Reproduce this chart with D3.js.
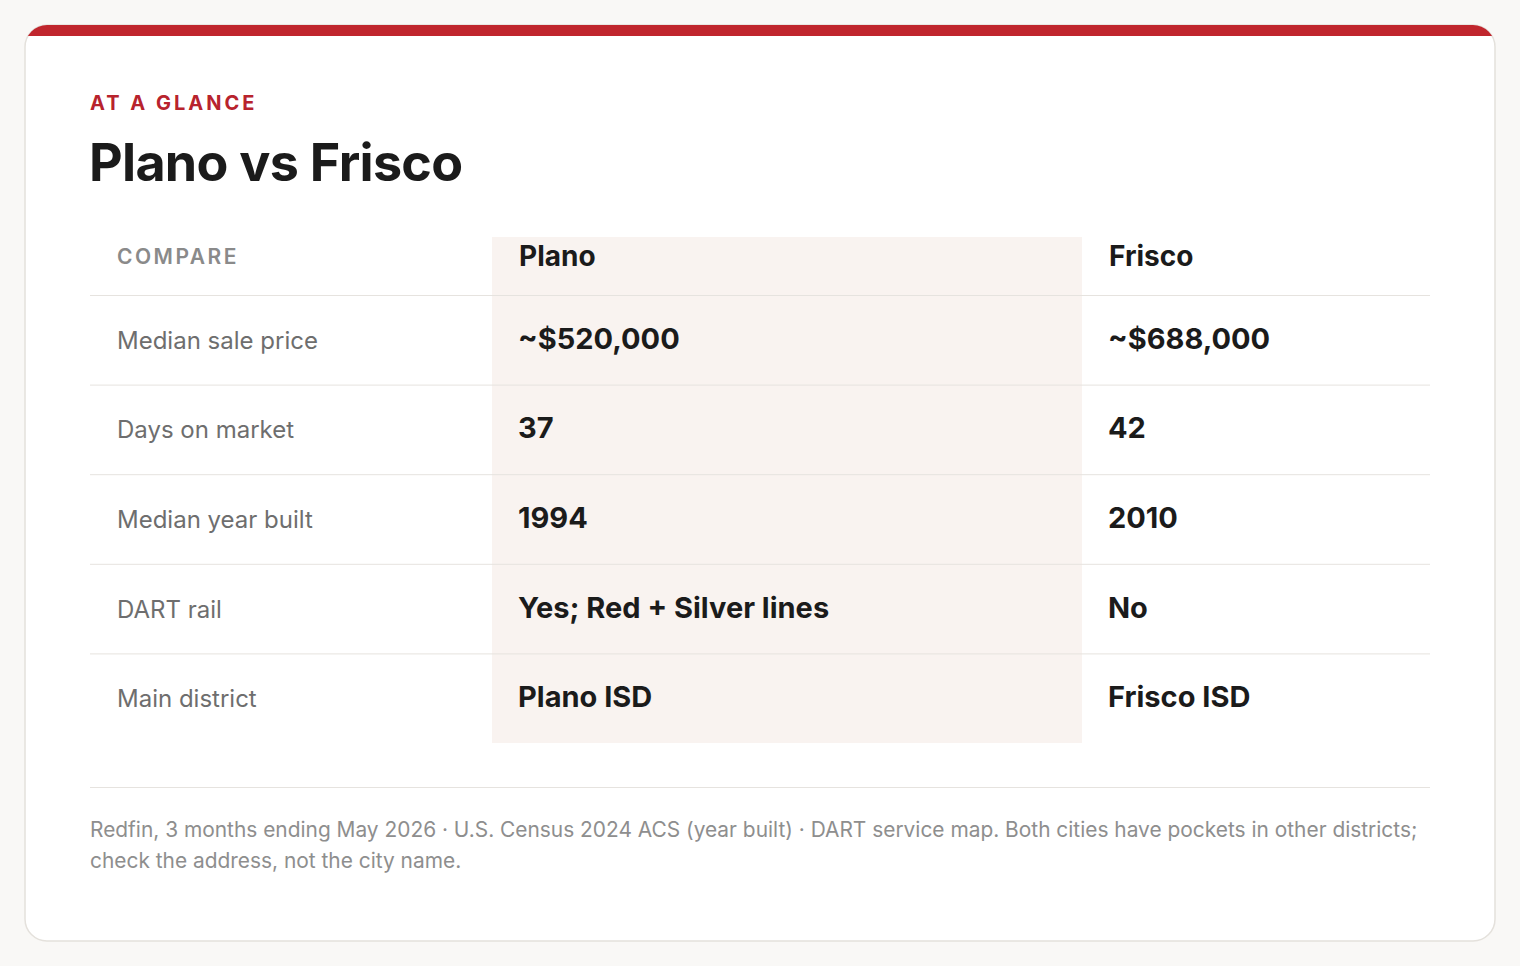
<!DOCTYPE html>
<html><head><meta charset="utf-8">
<script src="https://cdn.jsdelivr.net/npm/d3@7"></script>
<style>
body{margin:0;background:#f9f8f6;font-family:Inter,"Noto Sans",sans-serif;}
</style></head><body>
<svg id="chart" width="1520" height="966"></svg>
<script>
// table content
const columns = ["COMPARE", "Plano", "Frisco"];
const metrics = ["Median sale price", "Days on market", "Median year built", "DART rail", "Main district"];
const plano = ["~$520,000", "37", "1994", "Yes; Red + Silver lines", "Plano ISD"];
const frisco = ["~$688,000", "42", "2010", "No", "Frisco ISD"];
const notes = ["Redfin, 3 months ending May 2026 · U.S. Census 2024 ACS (year built) · DART service map. Both cities have pockets in other districts;",
  "check the address, not the city name."];

const svg = d3.select("#chart");
svg.append("defs").append("clipPath").attr("id", "card")
  .append("rect").attr("x", 25).attr("y", 25).attr("width", 1470).attr("height", 916).attr("rx", 22);
svg.append("rect").attr("x", 25).attr("y", 25).attr("width", 1470).attr("height", 916).attr("rx", 22)
  .attr("fill", "#fff").attr("stroke", "#e4e1dc").attr("stroke-width", 1.5);
svg.append("rect").attr("x", 25).attr("y", 25).attr("width", 1470).attr("height", 11)
  .attr("fill", "#c0262d").attr("clip-path", "url(#card)");

svg.append("text").attr("x", 90).attr("y", 110).text("AT A GLANCE")
  .attr("fill", "#b8232d").attr("font-size", 20).attr("font-weight", 700).attr("letter-spacing", 3);
svg.append("text").attr("x", 89).attr("y", 181).text("Plano vs Frisco")
  .attr("fill", "#1b1b1b").attr("font-size", 52).attr("font-weight", 700).attr("letter-spacing", -0.7);

const x = d3.scaleOrdinal().domain(columns).range([90, 492, 1082]);
const colEnd = 1430;
const rowH = (743 - 295) / metrics.length;
const rowY = d => 295 + metrics.indexOf(d) * rowH;

// Plano highlight column
svg.append("rect").attr("x", x("Plano")).attr("y", 237).attr("width", x("Frisco") - x("Plano"))
  .attr("height", 743 - 237).attr("fill", "#f9f3f0");

// header
svg.append("g").selectAll("text").data(columns).join("text")
  .attr("x", d => x(d) + 27).attr("y", 265)
  .text(d => d)
  .attr("font-size", d => d === "COMPARE" ? 21 : 28)
  .attr("font-weight", d => d === "COMPARE" ? 600 : 700)
  .attr("letter-spacing", d => d === "COMPARE" ? 2.5 : 0)
  .attr("fill", d => d === "COMPARE" ? "#8a8a8a" : "#1b1b1b")
  .attr("dy", d => d === "COMPARE" ? -1 : 1);

// row separators
const seps = [295].concat(metrics.slice(0, -1).map(d => rowY(d) + rowH));
svg.selectAll("line.sep").data(seps).join("line")
  .attr("x1", 90).attr("x2", colEnd)
  .attr("y1", d => d + 0.5).attr("y2", d => d + 0.5)
  .attr("stroke", "#e6e3df");

const rows = svg.selectAll("g.row").data(metrics).join("g")
  .attr("transform", d => `translate(0,${rowY(d) + rowH / 2 + 9})`);
rows.append("text").attr("x", x("COMPARE") + 27).text(d => d)
  .attr("font-size", 24).attr("fill", "#6e6e6e");
rows.append("text").attr("x", x("Plano") + 26).text((d, i) => plano[i])
  .attr("font-size", 29).attr("font-weight", 700).attr("fill", "#1b1b1b");
rows.append("text").attr("x", x("Frisco") + 26).text((d, i) => frisco[i])
  .attr("font-size", 29).attr("font-weight", 700).attr("fill", "#1b1b1b");

svg.append("line").attr("x1", 90).attr("x2", colEnd).attr("y1", 787.5).attr("y2", 787.5).attr("stroke", "#e6e3df");
svg.selectAll("text.note").data(notes).join("text").attr("class", "note")
  .attr("x", 90).attr("y", (d, i) => 837 + i * 31).text(d => d)
  .attr("font-size", 20.9).attr("fill", "#8e8e8e");
</script>
</body></html>
